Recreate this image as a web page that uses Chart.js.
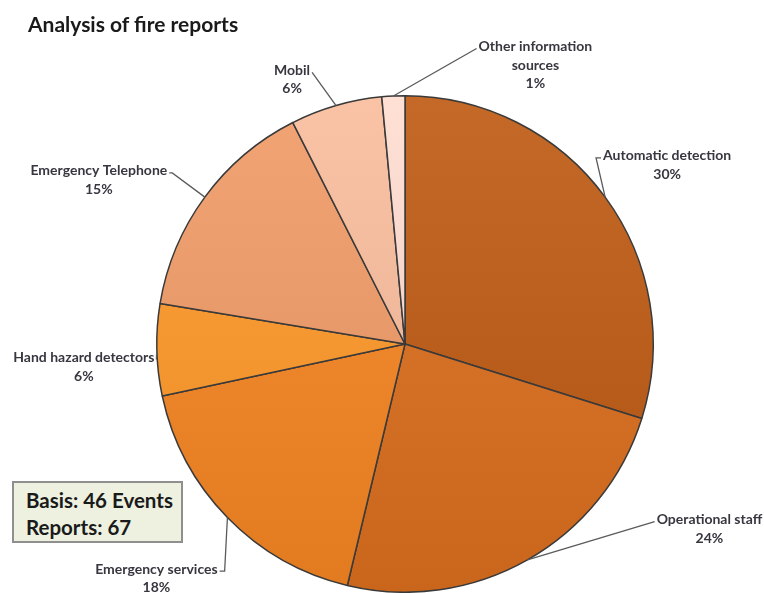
<!DOCTYPE html>
<html>
<head>
<meta charset="utf-8">
<script src="https://cdn.jsdelivr.net/npm/chart.js@4/dist/chart.umd.min.js"></script>
<style>
  html, body { margin: 0; padding: 0; background: #fff; }
  #wrap { position: relative; width: 764px; height: 593px; }
  #c { position: absolute; left: 0; top: 0; }
  #title { position: absolute; left: 28px; top: 11px; font: bold 21px Lato, sans-serif; color: #1a1a1a; }
  #basis { position: absolute; left: 12px; top: 481px; width: 167px; height: 58px;
           background: #EEF1E0; border: 2px solid #8f8f8f; box-sizing: content-box;
           font: bold 20.5px Lato, sans-serif; color: #1a1a1a; }
  #basis div { position: absolute; left: 12px; }
</style>
</head>
<body>
<div id="wrap">
  <canvas id="c" width="764" height="593"></canvas>
  <div id="title">Analysis of fire reports</div>
  <div id="basis"><div style="top:5px">Basis: 46 Events</div><div style="top:32px">Reports: 67</div></div>
</div>
<script>
const categories = ["Automatic detection", "Operational staff", "Emergency services", "Hand hazard detectors", "Emergency Telephone", "Mobil", "Other information sources"];
const reportCounts = [20, 16, 12, 4, 10, 4, 1];
const percentLabels = ["30%", "24%", "18%", "6%", "15%", "6%", "1%"];
const labelLines = [["Automatic detection"], ["Operational staff"], ["Emergency services"], ["Hand hazard detectors"], ["Emergency Telephone"], ["Mobil"], ["Other information", "sources"]];

const sliceColors = ["#BC611F", "#D8732A", "#F0882E", "#F99A33", "#EA9C6C", "#F2BB9D", "#FAD8CC"];
// label text-centre offsets from the arc's mid-edge point (px), and leader style
const labelOffsets = [[62, -32], [182, -31], [-71, 61], [-73, 17], [-106, -17], [-44, -26], [142, -31]];
const leaderStyle = ["elbowV", "straight", "elbowV", "straight", "elbowH", "straight", "straight"];

function shade(hex, amt) {
  const n = parseInt(hex.slice(1), 16);
  let r = (n >> 16) & 255, g = (n >> 8) & 255, b = n & 255;
  const f = v => Math.max(0, Math.min(255, Math.round(v + amt)));
  return `rgb(${f(r)},${f(g)},${f(b)})`;
}

const labelPlugin = {
  id: 'pieLabels',
  afterDatasetsDraw(chart) {
    const ctx = chart.ctx;
    const meta = chart.getDatasetMeta(0);
    ctx.save();
    ctx.font = 'bold 14px Lato, sans-serif';
    ctx.fillStyle = '#38363f';
    ctx.textAlign = 'center';
    ctx.textBaseline = 'middle';
    const lh = 18.5;
    meta.data.forEach((arc, i) => {
      const mid = (arc.startAngle + arc.endAngle) / 2;
      const ex = arc.x + Math.cos(mid) * arc.outerRadius;
      const ey = arc.y + Math.sin(mid) * arc.outerRadius;
      const lines = labelLines[i].concat([percentLabels[i]]);
      const cx = ex + labelOffsets[i][0];
      const cy = ey + labelOffsets[i][1];
      const top = cy - (lines.length - 1) * lh / 2;
      const w = Math.max(...labelLines[i].map(t => ctx.measureText(t).width));
      const right = cx > ex;
      const tx = right ? cx - w / 2 - 2 : cx + w / 2 + 2;
      const ty = top + 2;
      ctx.strokeStyle = '#5a5a5a';
      ctx.lineWidth = 1.3;
      ctx.beginPath();
      ctx.moveTo(ex, ey);
      if (leaderStyle[i] === 'elbowV') {
        const kx = right ? tx - 5 : tx + 5;
        ctx.lineTo(kx, ty);
        ctx.lineTo(tx, ty);
      } else if (leaderStyle[i] === 'elbowH') {
        const kx = tx + (right ? -3 : 3);
        ctx.lineTo(kx, ty);
        ctx.lineTo(tx, ty);
      } else {
        ctx.lineTo(tx, ty);
      }
      ctx.stroke();
      lines.forEach((t, k) => ctx.fillText(t, cx, top + k * lh));
    });
    ctx.restore();
  }
};

new Chart(document.getElementById('c'), {
  type: 'pie',
  data: {
    labels: categories,
    datasets: [{
      data: reportCounts,
      backgroundColor: (c) => {
        const chart = c.chart;
        const area = chart.chartArea;
        if (!area) return sliceColors[c.dataIndex];
        const g = chart.ctx.createLinearGradient(0, area.top, 0, area.bottom);
        g.addColorStop(0, shade(sliceColors[c.dataIndex], 8));
        g.addColorStop(1, shade(sliceColors[c.dataIndex], -14));
        return g;
      },
      borderColor: '#3a3a3a',
      borderWidth: 1.5
    }]
  },
  options: {
    responsive: false,
    animation: false,
    layout: { padding: { left: 156, right: 110, top: 95, bottom: 0 } },
    plugins: { legend: { display: false }, tooltip: { enabled: false }, title: { display: false } }
  },
  plugins: [labelPlugin]
});
</script>
</body>
</html>
